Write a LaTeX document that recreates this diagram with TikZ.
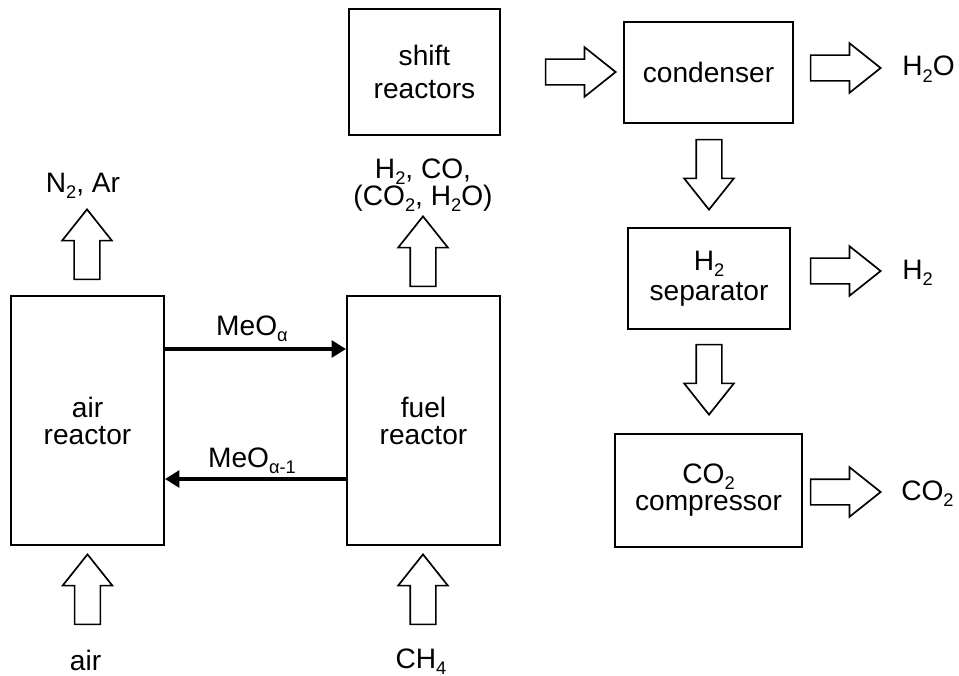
\documentclass[tikz,border=0pt]{standalone}
\usepackage{fontspec}
\setmainfont{Liberation Sans}
\usetikzlibrary{shapes.arrows,arrows.meta}
\newcommand\chsub[1]{\raisebox{-4.3pt}{\fontsize{13}{13}\selectfont #1}}
\tikzset{
    unit/.style={draw, line width=1.4pt, align=center, inner sep=0pt},
    blockarrow/.style={single arrow, draw, line width=1.2pt, anchor=tip,
        inner xsep=0pt, inner ysep=0.3cm,
        minimum height=1.75cm, minimum width=1.2cm,
        single arrow head extend=0.3cm, single arrow tip angle=77},
    stream/.style={line width=2.5pt, -{Triangle[length=0.36cm,width=0.42cm]}},
    label/.style={inner sep=0pt}
}

\begin{document}
\begin{tikzpicture}[x=0.025cm, y=-0.025cm, font=\fontsize{20}{19.2}\selectfont]
    \useasboundingbox (0,0) rectangle (959,676);

    % Chemical looping reactors
    \node[unit, minimum width=3.825cm, minimum height=6.225cm] (air) at (87.5,420.5) {air\\reactor};
    \node[unit, minimum width=3.825cm, minimum height=6.225cm] (fuel) at (423.5,420.5) {fuel\\reactor};

    % Oxygen carrier loop
    \draw[stream] (air.east |- 0,349) -- (fuel.west |- 0,349);
    \draw[stream] (fuel.west |- 0,479) -- (air.east |- 0,479);
    \node[label, anchor=base] (meoa) at (252,335) {MeO\chsub{α}};
    \node[label, anchor=base] (meob) at (252,467) {MeO\chsub{α-1}};

    % Feeds and off-gases of the reactors (placed by their tips)
    \node[blockarrow, rotate=90] (airin) at (87.5,553) {};
    \node[blockarrow, rotate=90] (fuelin) at (423,553) {};
    \node[blockarrow, rotate=90] (airout) at (87,208) {};
    \node[blockarrow, rotate=90] (fuelout) at (423,215) {};
    \node[label, anchor=base] (airfeed) at (85.5,670) {air};
    \node[label, anchor=base] (ch4) at (421,668) {CH\chsub{4}};
    \node[label, anchor=base] (n2ar) at (83,192) {N\chsub{2}, Ar};
    \node[label, align=center] (syngas) at (423,185) {H\chsub{2}, CO,\\(CO\chsub{2}, H\chsub{2}O)};

    % Gas treatment train
    \node[unit, minimum width=3.775cm, minimum height=3.15cm] (shift) at (424.5,72) {shift\\[4.3pt]reactors};
    \node[unit, minimum width=4.225cm, minimum height=2.525cm] (cond) at (708.5,72.5) {condenser};
    \node[unit, minimum width=4.05cm, minimum height=2.525cm] (sep) at (709,278.5) {H\chsub{2}\\[2pt]separator};
    \node[unit, minimum width=4.675cm, minimum height=2.825cm] (comp) at (708.5,490.5) {CO\chsub{2}\\compressor};

    \node[blockarrow] (shiftcond) at (617,72) {};
    \node[blockarrow, rotate=-90] (condsep) at (709,211) {};
    \node[blockarrow, rotate=-90] (sepcomp) at (709,416) {};

    % Products
    \node[blockarrow] (h2oout) at (882,68) {};
    \node[blockarrow] (h2out) at (882,271) {};
    \node[blockarrow] (co2out) at (882,492) {};
    \node[label, anchor=base west] (h2o) at (902,76) {H\chsub{2}O};
    \node[label, anchor=base west] (h2) at (902,279) {H\chsub{2}};
    \node[label, anchor=base west] (co2) at (901,500) {CO\chsub{2}};
\end{tikzpicture}
\end{document}
